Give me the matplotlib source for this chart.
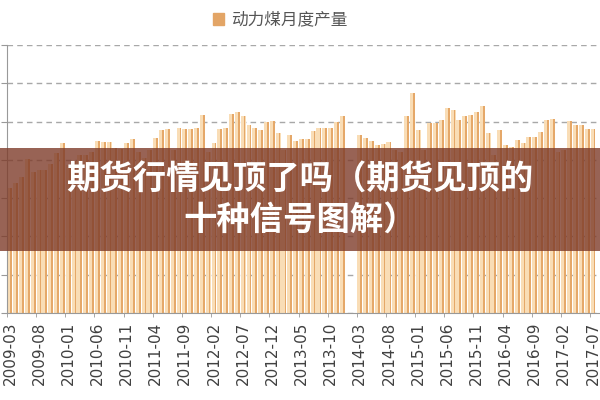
import numpy as np
import pandas as pd
from matplotlib import pyplot as plt
from matplotlib.patches import Patch, Rectangle

cjk = ['Noto Sans CJK SC', 'DejaVu Sans']

# 动力煤月度产量, monthly from 2009-03 (nan = no data)
start_month = '2009-03'
output = [
    16300, 17000, 17800, 20100, 18400, 18700, 18700, 19500, 20900, 22200,   # 2009-03 .. 2009-12
    19300, 19800, 20600, 20600, 21000, 22400, 22300, 22300, 21500, 21400,   # 2010-01 .. 2010-10
    22200, 22700, 21000, 20200, 21300, 22800, 23900, 24000, 21300, 24200,   # 2010-11 .. 2011-08
    24000, 24000, 24200, 25900, 21000, 22200, 24000, 24200, 26000, 26200,   # 2011-09 .. 2012-06
    25700, 24500, 24100, 23900, 25000, 25100, 23500, 21300, 23200, 22400,   # 2012-07 .. 2013-04
    22700, 22700, 23800, 24100, 24100, 24200, 25000, 25700, np.nan, np.nan, # 2013-05 .. 2014-02
    23200, 22800, 22400, 22000, 22100, 22300, 21300, 21000, 25700, 28700,   # 2014-03 .. 2014-12
    23900, 21300, 24800, 24800, 25200, 26800, 26500, 25200, 25700, 25800,   # 2015-01 .. 2015-10
    26200, 27000, 23500, 20600, 23900, 21900, 21700, 22600, 22200, 23000,   # 2015-11 .. 2016-08
    23000, 23600, 25200, 25400, 21000, 21300, 25100, 24500, 24500, 24000,   # 2016-09 .. 2017-06
    24000,                                                                   # 2017-07
]
legend_label = '动力煤月度产量'
banner_lines = ['期货行情见顶了吗（期货见顶的', '十种信号图解）']

months = pd.period_range(start_month, periods=len(output), freq='M').strftime('%Y-%m')
values = np.array(output, dtype=float)
x = np.arange(len(values))
ok = ~np.isnan(values)

fig = plt.figure(figsize=(6, 4), dpi=100)
ax = fig.add_axes([7 / 600, 87 / 400, 593 / 600, 268 / 400])

# bars: pale body with a darker strip on the right
ax.bar(x[ok], values[ok], width=0.85, color='#F9DDB6', zorder=2)
ax.bar(x[ok] + 0.25, values[ok], width=0.3, color='#E5A869', zorder=2)

ax.set_ylim(0, 35000)
ax.set_xlim(-0.5, 101.2)
ax.set_yticks(np.arange(0, 35001, 5000))
ax.set_yticklabels([])
ax.yaxis.grid(True, color='#A8A8A8', linestyle=(0, (4, 3)), linewidth=1, zorder=1)

ax.set_xticks(x[::5])
ax.set_xticklabels(months[::5], rotation=90, fontsize=11, color='#404040')
ax.set_xticks(x[::5] - 0.5, minor=True)
ax.tick_params(axis='x', which='major', length=0, pad=6)
ax.tick_params(axis='x', which='minor', length=3, color='#999999')
ax.tick_params(axis='y', length=4, color='#999999')

for side in ['top', 'right']:
    ax.spines[side].set_visible(False)
ax.spines['left'].set_color('#999999')
ax.spines['bottom'].set_color('#999999')

fig.legend(handles=[Patch(color='#E3A566', label=legend_label)],
           loc='center', bbox_to_anchor=(280 / 600, 1 - 20 / 400), frameon=False,
           handlelength=0.7, handleheight=0.7, handletextpad=0.4,
           prop={'family': cjk, 'size': 12}, labelcolor='#555555')

# title banner across the chart
fig.patches.append(Rectangle((0, 1 - 251 / 400), 1, 103 / 400, transform=fig.transFigure,
                             facecolor='#7E3C2A', alpha=0.8, zorder=5))
fig.text(0.5, 1 - 180 / 400, banner_lines[0], ha='center', va='center', color='white',
         fontsize=24, fontweight='bold', family=cjk, zorder=6)
fig.text(0.5, 1 - 220 / 400, banner_lines[1], ha='center', va='center', color='white',
         fontsize=24, fontweight='bold', family=cjk, zorder=6)

fig.savefig('out.png', dpi=100)
